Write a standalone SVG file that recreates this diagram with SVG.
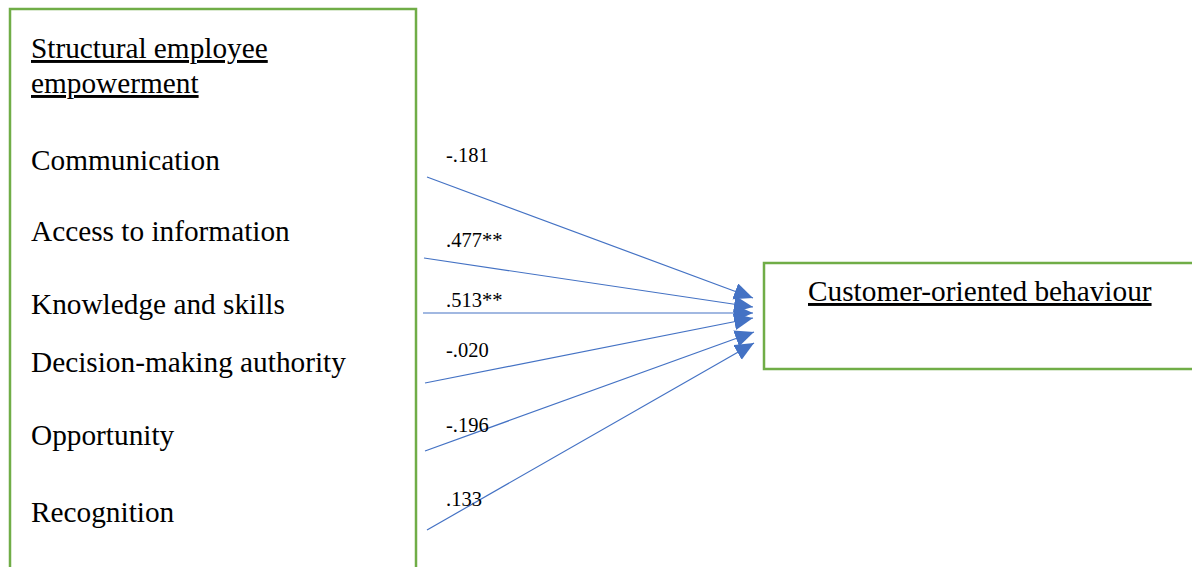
<svg xmlns="http://www.w3.org/2000/svg" width="1192" height="567" viewBox="0 0 1192 567">
<style>
.box{fill:#fff;stroke:#70AD47;stroke-width:2.5}
.t{font-size:29.3px;fill:#000}
.u{text-decoration:underline}
.l{font-size:20.5px;fill:#000}
.c{stroke:#4472C4;stroke-width:1.2;fill:none;marker-end:url(#ah)}
</style>
<defs>
<marker id="ah" markerUnits="userSpaceOnUse" markerWidth="22" markerHeight="18" refX="19" refY="8.5" orient="auto">
<path d="M0,0 L19,8.5 L0,17 Z" fill="#4472C4"/>
</marker>
</defs>
<rect width="1192" height="567" fill="#fff"/>
<g id="node-left" font-family="'Liberation Serif', 'Times New Roman', 'DejaVu Serif', serif">
<rect class="box" x="10" y="9" width="406" height="570"/>
<text class="t u" x="31" y="58">Structural employee</text>
<text class="t u" x="31" y="93">empowerment</text>
<text class="t" x="31" y="170">Communication</text>
<text class="t" x="31" y="241">Access to information</text>
<text class="t" x="31" y="314">Knowledge and skills</text>
<text class="t" x="31" y="372">Decision-making authority</text>
<text class="t" x="31" y="445">Opportunity</text>
<text class="t" x="31" y="522">Recognition</text>
</g>
<g id="node-right" font-family="'Liberation Serif', 'Times New Roman', 'DejaVu Serif', serif">
<rect class="box" x="764" y="263" width="440" height="106"/>
<text class="t u" x="808" y="301">Customer-oriented behaviour</text>
</g>
<g id="connectors">
<line class="c" x1="427" y1="177" x2="753" y2="298"/>
<line class="c" x1="424" y1="258" x2="753" y2="307"/>
<line class="c" x1="423" y1="313" x2="753" y2="313"/>
<line class="c" x1="425" y1="383" x2="753" y2="318"/>
<line class="c" x1="425" y1="451" x2="754" y2="332"/>
<line class="c" x1="427" y1="530" x2="754" y2="343"/>
</g>
<g id="labels" font-family="'Liberation Serif', 'Times New Roman', 'DejaVu Serif', serif">
<text class="l" x="446" y="162">-.181</text>
<text class="l" x="446" y="247">.477**</text>
<text class="l" x="446" y="307">.513**</text>
<text class="l" x="446" y="357">-.020</text>
<text class="l" x="446" y="432">-.196</text>
<text class="l" x="446" y="506">.133</text>
</g>
</svg>
